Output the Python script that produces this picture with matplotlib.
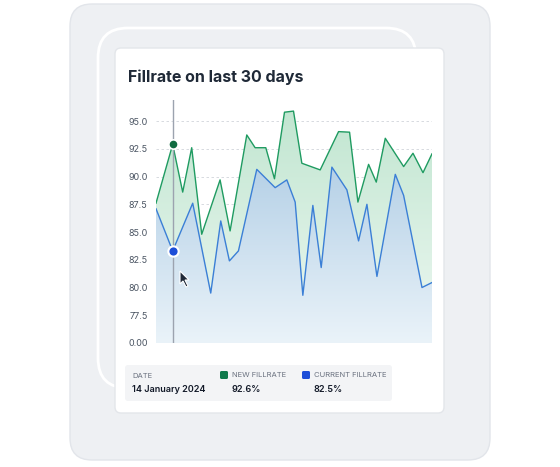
import numpy as np
import matplotlib
matplotlib.use("Agg")
import matplotlib.pyplot as plt
from matplotlib.patches import FancyBboxPatch, Polygon
from matplotlib.colors import LinearSegmentedColormap

plt.rcParams['font.family'] = ['Inter', 'DejaVu Sans']

new_x = [108,158,188,215,245,300,330,380,405,437,463,493,520,545,600,655,688,713,745,768,795,850,878,908,935]
new_y = [87.6,92.9,88.6,92.6,84.8,89.7,85.1,93.75,92.6,92.6,89.8,95.8,95.9,91.2,90.6,94.05,94.0,87.7,91.1,89.5,93.45,90.9,92.1,90.35,92.05]
cur_x = [108,158,218,272,302,328,355,410,465,500,525,548,578,603,635,680,715,740,770,825,850,905,935]
cur_y = [87.1,83.3,87.6,79.5,86.0,82.4,83.3,90.65,89.0,89.7,87.7,79.3,87.4,81.8,90.85,88.8,84.2,87.5,81.0,90.2,88.3,80.0,80.45]
tick_vals = [75, 77.5, 80, 82.5, 85, 87.5, 90, 92.5, 95]
tick_labels = ["0.00", "77.5", "80.0", "82.5", "85.0", "87.5", "90.0", "92.5", "95.0"]

W, H = 560, 467
fig = plt.figure(figsize=(W/100, H/100), dpi=100)
bg = fig.add_axes([0, 0, 1, 1]); bg.set_xlim(0, W); bg.set_ylim(H, 0); bg.axis('off')
bg.add_patch(FancyBboxPatch((70, 4), 420, 456, boxstyle="round,pad=0,rounding_size=22", fc="#eef0f3", ec="#e2e5ea", lw=1))
bg.add_patch(FancyBboxPatch((98, 28), 318, 360, boxstyle="round,pad=0,rounding_size=30", fc="none", ec="#ffffff", lw=2))
bg.add_patch(FancyBboxPatch((115, 48), 329, 365, boxstyle="round,pad=0,rounding_size=6", fc="white", ec="#e3e6ea", lw=1))
bg.text(128, 77, "Fillrate on last 30 days", fontsize=11.5, fontweight='bold', color='#1f2937', va='center')
bg.add_patch(FancyBboxPatch((125, 365), 267, 36, boxstyle="round,pad=0,rounding_size=3", fc="#f3f4f6", ec="none"))
bg.text(132, 376, "DATE", fontsize=5.5, color='#6b7280', va='center')
bg.text(132, 390, "14 January 2024", fontsize=6.5, color='#111827', va='center', fontweight='semibold')
bg.add_patch(FancyBboxPatch((220, 371), 8, 8, boxstyle="round,pad=0,rounding_size=1.5", fc="#0f7a4c", ec="none"))
bg.text(232, 375, "NEW FILLRATE", fontsize=5.5, color='#6b7280', va='center')
bg.text(232, 389, "92.6%", fontsize=6.5, color='#111827', va='center', fontweight='semibold')
bg.add_patch(FancyBboxPatch((302, 371), 8, 8, boxstyle="round,pad=0,rounding_size=1.5", fc="#1d4ed8", ec="none"))
bg.text(314, 375, "CURRENT FILLRATE", fontsize=5.5, color='#6b7280', va='center')
bg.text(314, 389, "82.5%", fontsize=6.5, color='#111827', va='center', fontweight='semibold')

ax = fig.add_axes([156/W, (H-343)/H, 276/W, 243/H])
ax.set_xlim(108, 935); ax.set_ylim(75, 96.9)
for s in ax.spines.values(): s.set_visible(False)
ax.set_yticks(tick_vals); ax.set_yticklabels(tick_labels, fontsize=6.5, color='#4b5563')
ax.tick_params(length=0, pad=6); ax.set_xticks([])
for v in tick_vals:
    ax.axhline(v, color='#d1d5db', lw=0.6, ls=(0, (3, 3)), zorder=0)

def grad(xs, ys, c1, c2, z):
    poly = ax.fill_between(xs, ys, 75, color='none')
    cmap = LinearSegmentedColormap.from_list('g', [c2, c1])
    im = ax.imshow(np.linspace(0, 1, 256).reshape(-1, 1), cmap=cmap, aspect='auto',
                   extent=[108, 935, 75, 96.9], origin='lower', zorder=z)
    im.set_clip_path(poly.get_paths()[0], transform=ax.transData)

grad(new_x, new_y, '#bfe5cf', '#eef8f2', 1)
ax.plot(new_x, new_y, color='#1f9b61', lw=1, zorder=3)
grad(cur_x, cur_y, '#a2c4e0', '#eaf3f9', 2)
ax.plot(cur_x, cur_y, color='#3b7fd6', lw=1, zorder=4)
ax.axvline(158, color='#9ca3af', lw=1, zorder=5)
ax.scatter([158], [92.9], s=45, color='#0f6b40', edgecolor='white', lw=1.2, zorder=6)
ax.scatter([158], [83.3], s=55, color='#1d4ed8', edgecolor='white', lw=1.5, zorder=6)
ax.set_ylim(75, 96.9)

top = fig.add_axes([0, 0, 1, 1]); top.set_xlim(0, W); top.set_ylim(H, 0); top.axis('off')
top.patch.set_alpha(0)
cursor = [(180, 271), (180, 284), (183, 281), (186, 287), (188, 286), (185, 280), (189, 280)]
top.add_patch(Polygon(cursor, closed=True, fc='#1f2937', ec='white', lw=0.8))
fig.savefig("out.png", dpi=100)
